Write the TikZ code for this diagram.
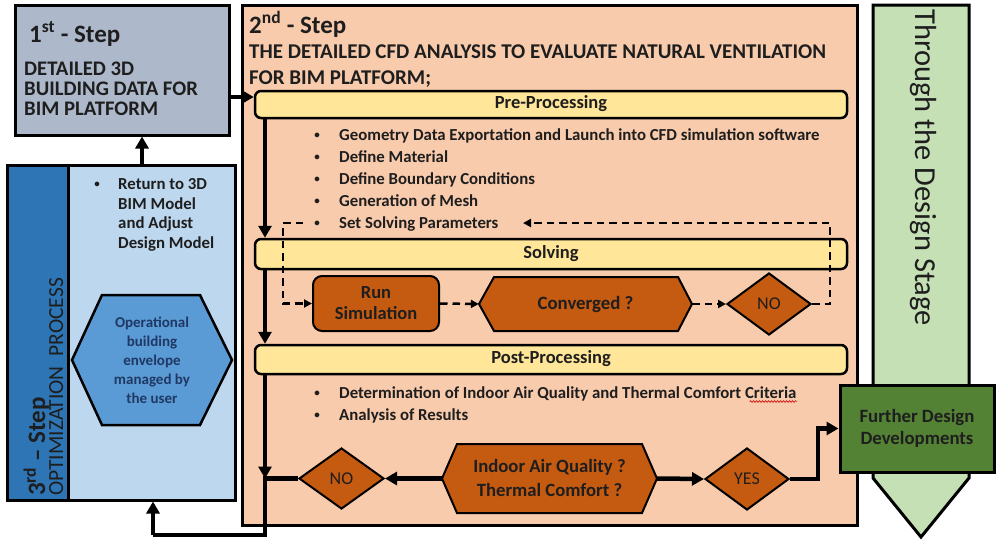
\documentclass[tikz,border=0pt]{standalone}
\usepackage{fontspec}
\setmainfont{Carlito}
\usetikzlibrary{arrows.meta,shapes.geometric,decorations.pathmorphing}

\definecolor{slate}{HTML}{ADB9CA}
\definecolor{peach}{HTML}{F8CBAD}
\definecolor{cream}{HTML}{FFE699}
\definecolor{rust}{HTML}{C55A11}
\definecolor{navy}{HTML}{2E75B6}
\definecolor{sky}{HTML}{BDD7EE}
\definecolor{midblue}{HTML}{5B9BD5}
\definecolor{mint}{HTML}{C5E0B4}
\definecolor{leaf}{HTML}{548235}
\definecolor{ink}{HTML}{1E1E1E}
\definecolor{deepnavy}{HTML}{1F3864}
\newcommand\fsz[2]{\fontsize{#1}{#2}\selectfont}

\begin{document}
\begin{tikzpicture}[x=1pt,y=-1pt,
  stepframe/.style={draw=black,line width=3pt,inner sep=0pt},
  bar/.style={draw=black,line width=2.5pt,fill=cream,rounded corners=6pt,
    minimum width=592pt,inner sep=0pt,text=ink,font=\fsz{18.5}{22}\bfseries,
    text height=12pt,text depth=3.5pt},
  proc/.style={draw=black,line width=2pt,fill=rust},
  decision/.style={diamond,draw=black,line width=2pt,fill=rust,inner sep=0pt,
    text=ink,font=\fsz{18}{20}},
  label/.style={inner sep=0pt,text=ink,font=\fsz{16.8}{20}\bfseries},
  bulletmark/.style={inner sep=0pt,text=ink,font=\fsz{11}{13}\bfseries,anchor=base,yshift=2pt},
  flow/.style={line width=4.5pt,-{Triangle[length=12pt,width=13pt]}},
  flowline/.style={line width=4.5pt},
  dashflow/.style={line width=2.5pt,dash pattern=on 7.5pt off 5pt,
    -{Triangle[length=8pt,width=8pt]}},
]
\useasboundingbox (0,0) rectangle (996,541);
\fill[white] (0,0) rectangle (996,541);

% ---- design-stage arrow on the right
\draw[line width=3pt,fill=mint,line join=miter]
  (873,5) -- (969,5) -- (969,478) -- (921,537) -- (873,478) -- cycle;
\node[rotate=-90,anchor=west,inner sep=0pt,text=ink,font=\fsz{30.5}{34}] (stage)
  at (923,9) {Through the Design Stage};

% ---- step 2 panel
\node[stepframe,fill=peach,minimum width=615pt,minimum height=520pt] (step2) at (549.5,265) {};
\node[anchor=base west,inner sep=0pt,text=ink,font=\fsz{25}{28}\bfseries] (s2title)
  at (249,33) {2\textsuperscript{nd} - Step};
\node[anchor=base west,inner sep=0pt,text=ink,font=\fsz{21}{24}\bfseries] (s2a)
  at (249,58) {THE DETAILED CFD ANALYSIS TO EVALUATE NATURAL VENTILATION};
\node[anchor=base west,inner sep=0pt,text=ink,font=\fsz{21}{24}\bfseries] (s2b)
  at (249,84) {FOR BIM PLATFORM;};

% phase bars
\node[bar,minimum height=27pt] (pre) at (551,104.5) {Pre-Processing};
\node[bar,minimum height=30pt] (solv) at (551,254) {Solving};
\node[bar,minimum height=29pt] (post) at (551,359.5) {Post-Processing};

% pre-processing tasks
\foreach \n/\yy/\t in {
  1/140/{Geometry Data Exportation and Launch into CFD simulation software},
  2/162/{Define Material},
  3/184/{Define Boundary Conditions},
  4/206/{Generation of Mesh},
  5/228/{Set Solving Parameters}} {
  \node[bulletmark] (pb\n) at (317,\yy) {•};
  \node[label,anchor=base west] (pt\n) at (339,\yy) {\t};
}

% post-processing tasks
\node[bulletmark] (qb1) at (317,398) {•};
\node[label,anchor=base west] (qt1) at (339,398)
  {Determination of Indoor Air Quality and Thermal Comfort Criteria};
\node[bulletmark] (qb2) at (317,420) {•};
\node[label,anchor=base west] (qt2) at (339,420) {Analysis of Results};
\draw[red!80!black,line width=0.6pt,decorate,
  decoration={snake,amplitude=0.9pt,segment length=3pt}]
  ([xshift=-47pt,yshift=-3.5pt]qt1.base east) -- ([yshift=-3.5pt]qt1.base east);

% solving loop
\node[proc,rounded corners=9pt,minimum width=126pt,minimum height=55pt,inner sep=0pt,
  align=center,text=ink,font=\fsz{18.5}{21}\bfseries] (run) at (376,303.5) {Run\\Simulation};
\draw[proc,line join=miter] (479,304) -- (494,277) -- (678,277) -- (692,304)
  -- (678,331) -- (494,331) -- cycle;
\node[minimum width=213pt,minimum height=54pt,inner sep=0pt,text=ink,
  font=\fsz{18.8}{22}\bfseries] (conv) at (585.5,304) {Converged ?};
\node[decision,minimum width=84pt,minimum height=62pt] (no1) at (769,304) {NO};

% result check
\draw[proc,line join=miter] (442,478.5) -- (457,444) -- (642,444) -- (657,478.5)
  -- (642,513) -- (457,513) -- cycle;
\node[minimum width=215pt,minimum height=69pt,inner sep=0pt,align=center,text=ink,
  font=\fsz{18.7}{24}\bfseries] (iaq) at (549.5,478.5) {Indoor Air Quality ?\\Thermal Comfort ?};
\node[decision,minimum width=85pt,minimum height=61pt] (no2) at (341.5,478.5) {NO};
\node[decision,minimum width=84pt,minimum height=62pt] (yes) at (747,479) {YES};

% ---- step 1
\node[stepframe,fill=slate,minimum width=214pt,minimum height=130pt] (step1) at (122,70) {};
\node[anchor=base west,inner sep=0pt,text=ink,font=\fsz{25}{28}\bfseries] (s1title)
  at (29,42) {1\textsuperscript{st} - Step};
\node[anchor=base west,inner sep=0pt,text=ink,font=\fsz{20.7}{24}\bfseries] (s1a)
  at (24,75) {DETAILED 3D};
\node[anchor=base west,inner sep=0pt,text=ink,font=\fsz{20.7}{24}\bfseries] (s1b)
  at (24,95) {BUILDING DATA FOR};
\node[anchor=base west,inner sep=0pt,text=ink,font=\fsz{20.7}{24}\bfseries] (s1c)
  at (24,115) {BIM PLATFORM};

% ---- step 3
\node[stepframe,fill=sky,minimum width=228pt,minimum height=335pt] (step3) at (121,332.5) {};
\draw[line width=3pt,fill=navy] (7,165) rectangle (68,500);
\node[rotate=90,anchor=base west,inner sep=0pt,text=ink,font=\fsz{25}{28}\bfseries] (s3title)
  at (45,496) {3\textsuperscript{rd} – Step};
\node[rotate=90,anchor=base west,inner sep=0pt,text=ink,font=\fsz{21.5}{26}] (s3sub)
  at (63,496) {OPTIMIZATION\ \ PROCESS};
\node[bulletmark] (rb) at (97,189) {•};
\node[label,anchor=base west] (rt1) at (118,189) {Return to 3D};
\node[label,anchor=base west] (rt2) at (118,209) {BIM Model};
\node[label,anchor=base west] (rt3) at (118,228) {and Adjust};
\node[label,anchor=base west] (rt4) at (118,248) {Design Model};
\draw[line width=2.5pt,fill=midblue,line join=miter] (72,360) -- (102,295) -- (200,295)
  -- (232,360) -- (200,425) -- (102,425) -- cycle;
\node[minimum width=160pt,minimum height=130pt,inner sep=0pt,align=center,text=deepnavy,
  font=\fsz{15}{19}\bfseries] (user) at (152,360)
  {Operational\\building\\envelope\\managed by\\the user};

% ---- connectors
\coordinate (inlet) at ([yshift=7.5pt]pre.west);
\draw[flow] (inlet -| step1.east) -- (inlet);
\coordinate (upx) at (142,0);
\draw[flow] (step3.north -| upx) -- (step1.south -| upx);

\coordinate (spine) at (265,0);
\draw[flow] (pre.south -| spine) -- (solv.north -| spine);
\draw[flow] (solv.south -| spine) -- (post.north -| spine);
\draw[flow] (post.south -| spine) -- (no2.west -| spine);
\coordinate (back) at (153,535);
\draw[flowline] (no2.west) -- (no2.west -| spine) |- (back);
\draw[flow] (back) -- (back |- step3.south);

\coordinate (loopR) at (830,223);
\coordinate (loopEnd) at (523,223);
\coordinate (loopStart) at (303,223);
\coordinate (loopL) at (283,223);
\draw[dashflow] (no1.east) -| (loopR) -- (loopEnd);
\draw[dashflow] (loopStart) -- (loopL) |- (run.west);
\draw[dashflow] (run.east) -- (conv.west);
\draw[dashflow] (conv.east) -- (no1.west);

\draw[flow] (iaq.west) -- (no2.east);
\draw[flow] (iaq.east) -- (yes.west);

% ---- further developments
\node[stepframe,fill=leaf,minimum width=154pt,minimum height=87pt,align=center,
  text=ink,font=\fsz{18.8}{22}\bfseries] (further) at (917,428.5) {Further Design\\Developments};
\draw[flow] (yes.east) -- ([xshift=28pt]yes.east) |- (further.west);
\end{tikzpicture}
\end{document}
